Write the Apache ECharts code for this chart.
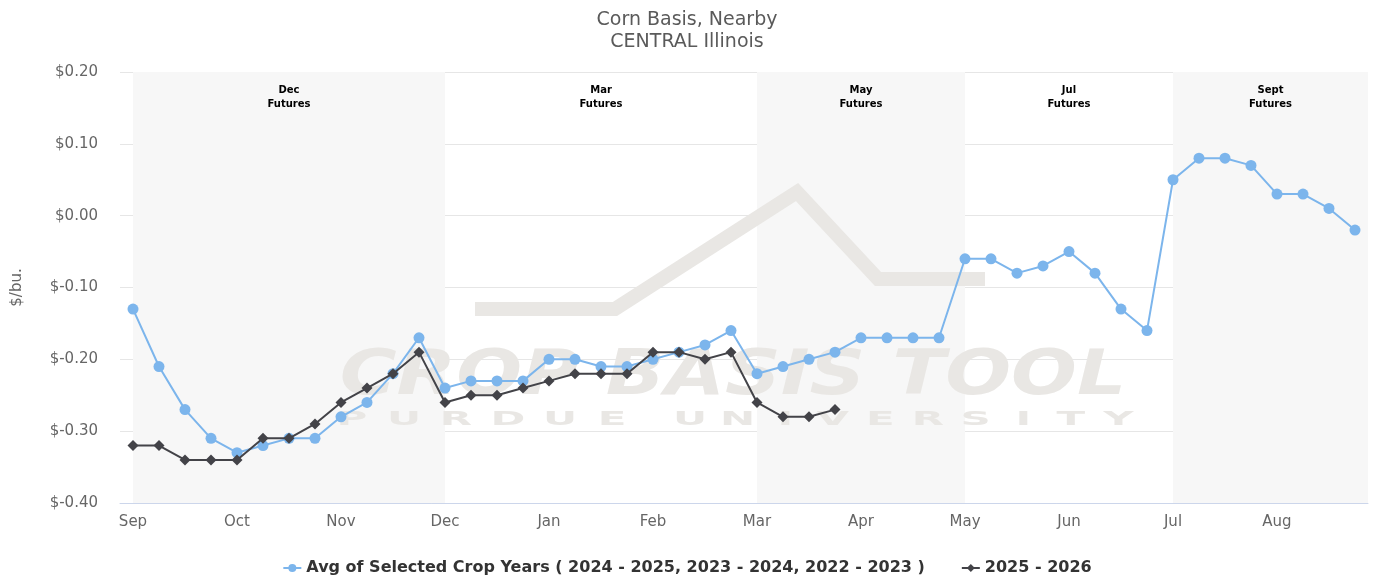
<!DOCTYPE html>
<html>
<head>
<meta charset="utf-8">
<script src="https://cdn.jsdelivr.net/npm/echarts@6/dist/echarts.min.js"></script>
<style>
  html, body { margin: 0; padding: 0; background: #fff; }
  #chart { width: 1374px; height: 575px; }
</style>
</head>
<body>
<div id="chart"></div>
<script>
// Basis semanal (48 semanas, Sep -> Aug), $/bu.
const months = ['Sep', 'Oct', 'Nov', 'Dec', 'Jan', 'Feb', 'Mar', 'Apr', 'May', 'Jun', 'Jul', 'Aug'];
const monthWeek = [0, 4, 8, 12, 16, 20, 24, 28, 32, 36, 40, 44];

const avgName = 'Avg of Selected Crop Years ( 2024 - 2025, 2023 - 2024, 2022 - 2023 )';
const avgBasis = [
  -0.13, -0.21, -0.27, -0.31, -0.33, -0.32, -0.31, -0.31, -0.28, -0.26, -0.22, -0.17,
  -0.24, -0.23, -0.23, -0.23, -0.20, -0.20, -0.21, -0.21, -0.20, -0.19, -0.18, -0.16,
  -0.22, -0.21, -0.20, -0.19, -0.17, -0.17, -0.17, -0.17, -0.06, -0.06, -0.08, -0.07,
  -0.05, -0.08, -0.13, -0.16, 0.05, 0.08, 0.08, 0.07, 0.03, 0.03, 0.01, -0.02
];

const curName = '2025 - 2026';
const curBasis = [
  -0.32, -0.32, -0.34, -0.34, -0.34, -0.31, -0.31, -0.29, -0.26, -0.24, -0.22, -0.19,
  -0.26, -0.25, -0.25, -0.24, -0.23, -0.22, -0.22, -0.22, -0.19, -0.19, -0.20, -0.19,
  -0.26, -0.28, -0.28, -0.27
];

// bandas de contrato de futuros (en semanas)
const futLabels = ['Dec\nFutures', 'Mar\nFutures', 'May\nFutures', 'Jul\nFutures', 'Sept\nFutures'];
const futFrom   = [0, 12, 24, 32, 40];
const futTo     = [12, 24, 32, 40, 47.5];

const GREY = '#666666';
const FONT = '"DejaVu Sans", Verdana, sans-serif';

const bands = futLabels.map((lab, i) => [
  { xAxis: futFrom[i], name: lab, itemStyle: { color: i % 2 === 0 ? '#f7f7f7' : 'rgba(0,0,0,0)' } },
  { xAxis: futTo[i] }
]);

// marca de agua "Crop Basis Tool" (decorativa)
const WM = '#e9e7e4';
const wmLetter = (ch, x) => ({
  type: 'text', z: 1.5, silent: true,
  x, y: 420, scaleX: 2.1,
  style: { text: ch, fill: WM, font: 'bold 20px ' + FONT, textAlign: 'center', textVerticalAlign: 'middle' }
});
const wmLetters = [
  ...'PURDUE'.split('').map((ch, i) => wmLetter(ch, 352 + i * 52)),
  ...'UNIVERSITY'.split('').map((ch, i) => wmLetter(ch, 690 + i * 47.6))
];

const chart = echarts.init(document.getElementById('chart'), null, { renderer: 'canvas' });

chart.setOption({
  backgroundColor: '#ffffff',
  animation: false,
  title: {
    text: 'Corn Basis, Nearby\nCENTRAL Illinois',
    left: 'center',
    top: 4,
    textStyle: { color: '#5a5a5a', fontFamily: FONT, fontSize: 19, fontWeight: 'normal', lineHeight: 22 }
  },
  legend: {
    data: [avgName, curName],
    top: 555,
    left: 'center',
    itemGap: 36,
    itemWidth: 18,
    itemHeight: 10,
    textStyle: { color: '#333333', fontFamily: FONT, fontSize: 16, fontWeight: 'bold' }
  },
  graphic: [
    {
      type: 'polyline', z: 1.5, silent: true,
      shape: { points: [[475, 309], [615, 309], [797, 192], [878, 279], [985, 279]] },
      style: { stroke: WM, lineWidth: 14, fill: null, lineJoin: 'miter' }
    },
    {
      type: 'text', z: 1.5, silent: true,
      x: 733, y: 378, scaleX: 1.25,
      style: { text: 'CROP BASIS TOOL', fill: WM, font: 'italic 900 62px ' + FONT, textAlign: 'center', textVerticalAlign: 'middle' }
    },
    ...wmLetters
  ],
  grid: { left: 120, right: 6, top: 72, bottom: 72, outerBoundsMode: 'none', containLabel: false },
  xAxis: {
    type: 'value',
    min: -0.5,
    max: 47.5,
    axisLine: { show: true, onZero: false, lineStyle: { color: '#ccd6eb', width: 1 } },
    axisTick: { show: false },
    splitLine: { show: false },
    axisLabel: {
      customValues: monthWeek,
      color: GREY,
      fontFamily: FONT,
      fontSize: 15,
      margin: 12,
      formatter: v => months[monthWeek.indexOf(Math.round(v))] ?? ''
    }
  },
  yAxis: {
    type: 'value',
    min: -0.4,
    max: 0.2,
    interval: 0.1,
    name: '$/bu.',
    nameLocation: 'middle',
    nameRotate: 90,
    nameGap: 95,
    nameTextStyle: { color: GREY, fontFamily: FONT, fontSize: 15 },
    axisLine: { show: false },
    axisTick: { show: false },
    axisLabel: {
      color: GREY,
      fontFamily: FONT,
      fontSize: 15,
      margin: 22,
      formatter: v => '$' + (Math.abs(v) < 1e-9 ? 0 : v).toFixed(2)
    },
    splitLine: { lineStyle: { color: '#e6e6e6' } }
  },
  series: [
    {
      name: avgName,
      type: 'line',
      z: 3,
      data: avgBasis.map((v, i) => [i, v]),
      symbol: 'circle',
      symbolSize: 11,
      lineStyle: { color: '#7cb5ec', width: 2 },
      itemStyle: { color: '#7cb5ec' },
      markArea: {
        silent: true,
        z: 0,
        label: {
          show: true,
          position: 'insideTop',
          distance: 11,
          color: '#000000',
          fontFamily: FONT,
          fontSize: 10,
          fontWeight: 'bold',
          lineHeight: 14,
          align: 'center'
        },
        data: bands
      }
    },
    {
      name: curName,
      type: 'line',
      z: 4,
      data: curBasis.map((v, i) => [i, v]),
      symbol: 'diamond',
      symbolSize: 11,
      lineStyle: { color: '#434348', width: 2 },
      itemStyle: { color: '#434348' }
    }
  ]
});
</script>
</body>
</html>
